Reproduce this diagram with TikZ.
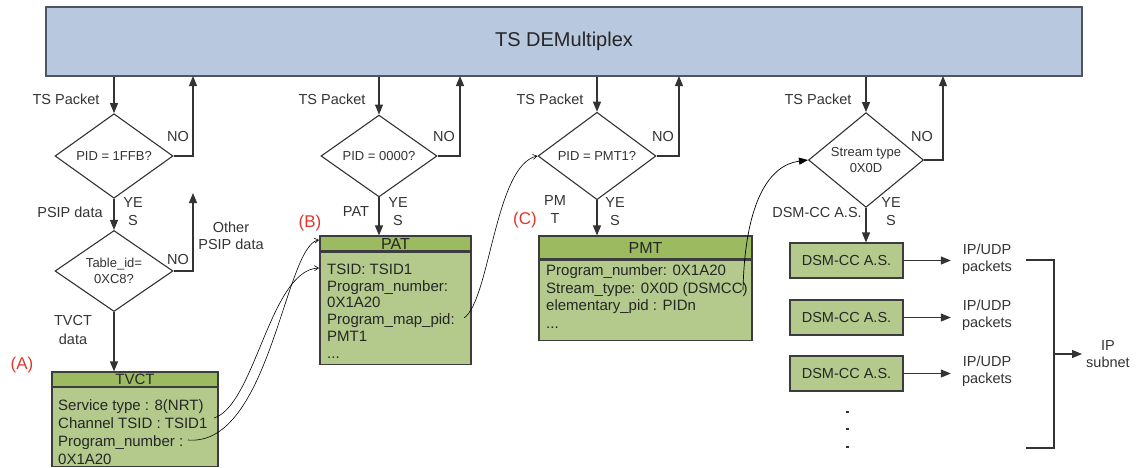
\documentclass[tikz,border=0pt]{standalone}
\usepackage{fontspec}
\setmainfont{Liberation Sans}
\usetikzlibrary{arrows.meta,shapes.geometric,calc}

\definecolor{barblue}{HTML}{B8C8DE}
\definecolor{barline}{HTML}{4D5563}
\definecolor{hdrgreen}{HTML}{9CBA60}
\definecolor{bodygreen}{HTML}{B4CA8C}
\definecolor{boxline}{HTML}{3C3C3C}
\definecolor{ink}{HTML}{333333}
\definecolor{tagred}{HTML}{E0362C}

\begin{document}
\begin{tikzpicture}[x=1pt,y=-1pt,
  lbl/.style={text=ink, font=\fontsize{14.5}{18}\selectfont, align=center, inner sep=0pt},
  tag/.style={text=tagred, font=\fontsize{17}{20}\selectfont, inner sep=0pt},
  decision/.style={diamond, draw=ink, line width=1.1pt, fill=white, inner sep=0pt,
    align=center, text=ink, font=\fontsize{13}{15.5}\selectfont},
  hdr/.style={rectangle, draw=boxline, line width=1.1pt, fill=hdrgreen, inner sep=0pt,
    text=black!85, font=\fontsize{16}{18}\selectfont},
  body/.style={rectangle, draw=boxline, line width=1.1pt, fill=bodygreen, inner sep=0pt},
  bodytext/.style={anchor=north west, inner sep=0pt, align=left, text=black!85},
  dsmbox/.style={rectangle, draw=boxline, line width=1.1pt, fill=bodygreen, inner sep=0pt,
    minimum width=113pt, minimum height=35pt, text=black!85, font=\fontsize{14.5}{17}\selectfont},
  flow/.style={draw=ink, line width=1.1pt, -{Triangle[length=10pt,width=8pt]}},
  plain/.style={draw=ink, line width=1.1pt},
  link/.style={draw=black, line width=0.6pt, -{Straight Barb[length=4pt,width=5pt]}},
  linkfill/.style={draw=black, line width=0.7pt, -{Triangle[length=9pt,width=7pt]}}]

\useasboundingbox (0,0) rectangle (1137,467);

% demultiplexer bar
\node[rectangle, draw=barline, line width=1.1pt, fill=barblue, inner sep=0pt,
  minimum width=1036pt, minimum height=69pt, text=black!85,
  font=\fontsize{20}{24}\selectfont] (bar) at (564,41.5) {TS DEMultiplex};

% decisions
\node[decision, minimum width=118pt, minimum height=70pt] (d1) at (114,156) {PID = 1FFB?};
\node[decision, minimum width=118pt, minimum height=68pt] (d2) at (114,271) {Table\_id=\\0XC8?};
\node[decision, minimum width=116pt, minimum height=70pt] (d3) at (379,156) {PID = 0000?};
\node[decision, minimum width=118pt, minimum height=70pt] (d4) at (597,156) {PID = PMT1?};
\node[decision, minimum width=115pt, minimum height=70pt] (d5) at (866,160) {Stream type\\0X0D};

% table boxes
\node[hdr, minimum width=166pt, minimum height=14.5pt, font=\fontsize{15}{18}\selectfont] (tvcth) at (135,379.25) {TVCT};
\node[body, minimum width=166pt, minimum height=79pt, anchor=north] (tvctb) at (tvcth.south) {};
\node[bodytext, font=\fontsize{15}{18}\selectfont] (tvctt) at (58,399.4)
  {Service type : 8(NRT)\\Channel TSID : TSID1\\Program\_number :\\0X1A20};

\node[hdr, minimum width=151pt, minimum height=15pt] (path) at (395.5,243.5) {PAT};
\node[body, minimum width=151pt, minimum height=112pt, anchor=north] (patb) at (path.south) {};
\node[bodytext, font=\fontsize{15}{16.75}\selectfont] (patt) at (327,263.7)
  {TSID: TSID1\\Program\_number:\\0X1A20\\Program\_map\_pid:\\PMT1\\...};

\node[hdr, minimum width=213pt, minimum height=23pt] (pmth) at (645.5,247.5) {PMT};
\node[body, minimum width=213pt, minimum height=80pt, anchor=north] (pmtb) at (pmth.south) {};
\node[bodytext, font=\fontsize{15}{17.5}\selectfont] (pmtt) at (546,264.5)
  {Program\_number: 0X1A20\\Stream\_type: 0X0D (DSMCC)\\elementary\_pid : PIDn\\...};

% DSM-CC application streams
\node[dsmbox] (dsm1) at (846.5,260.5) {DSM-CC A.S.};
\node[dsmbox] (dsm2) at (846.5,317.5) {DSM-CC A.S.};
\node[dsmbox] (dsm3) at (846.5,373.5) {DSM-CC A.S.};
\fill[ink] (845.5,411) rectangle ++(3,2);
\fill[ink] (845.5,428) rectangle ++(3,2);
\fill[ink] (845.5,446) rectangle ++(3,2);

% labels
\node[lbl] (tsp1) at (66,99) {TS Packet};
\node[lbl] (tsp2) at (332,99) {TS Packet};
\node[lbl] (tsp3) at (550,99) {TS Packet};
\node[lbl] (tsp4) at (818,99) {TS Packet};
\node[lbl] (no1) at (178,137) {NO};
\node[lbl] (no2) at (178,259) {NO};
\node[lbl] (no3) at (444,137) {NO};
\node[lbl] (no4) at (663,137) {NO};
\node[lbl] (no5) at (922,137) {NO};
\node[lbl] (yes1) at (133,212) {YE\\S};
\node[lbl] (yes2) at (398,212) {YE\\S};
\node[lbl] (yes3) at (615,211.5) {YE\\S};
\node[lbl] (yes4) at (891,211.5) {YE\\S};
\node[lbl] (psip) at (70,212) {PSIP data};
\node[lbl, font=\fontsize{14.5}{17}\selectfont] (other) at (231,235.5) {Other\\PSIP data};
\node[lbl, font=\fontsize{14.5}{19}\selectfont] (tvctdata) at (73,329.5) {TVCT\\data};
\node[lbl] (patlbl) at (356,212) {PAT};
\node[lbl] (pmtlbl) at (555,210) {PM\\T};
\node[lbl] (dsmlbl) at (817,212) {DSM-CC A.S.};
\node[lbl, font=\fontsize{14.5}{17}\selectfont, inner xsep=11pt] (ip1) at (987,259.5) {IP/UDP\\packets};
\node[lbl, font=\fontsize{14.5}{17}\selectfont, inner xsep=11pt] (ip2) at (987,315) {IP/UDP\\packets};
\node[lbl, font=\fontsize{14.5}{17}\selectfont, inner xsep=11pt] (ip3) at (987,371.5) {IP/UDP\\packets};
\node[lbl, font=\fontsize{14.5}{17}\selectfont, inner xsep=4pt] (ipnet) at (1108,354) {IP\\subnet};
\node[tag] (tagA) at (22,365) {(A)};
\node[tag] (tagB) at (310,223) {(B)};
\node[tag] (tagC) at (525,220) {(C)};

% return points on the bar
\coordinate (r1) at (193,76);
\coordinate (r2) at (193,193);
\coordinate (r3) at (460,76);
\coordinate (r4) at (679,76);
\coordinate (r5) at (943,76);

% packet flow
\draw[flow] (d1.north |- bar.south) -- (d1.north);
\draw[flow] (d1.east) -| (r1);
\draw[flow] (d1.south) -- (d2.north);
\draw[flow] (d2.east) -| (r2);
\draw[flow] (d2.south) -- (d2.south |- tvcth.north);

\draw[flow] (d3.north |- bar.south) -- (d3.north);
\draw[flow] (d3.east) -| (r3);
\draw[flow] (d3.south) -- (d3.south |- path.north);

\draw[flow] (d4.north |- bar.south) -- (d4.north);
\draw[flow] (d4.east) -| (r4);
\draw[flow] (d4.south) -- (d4.south |- pmth.north);

\draw[flow] (d5.north |- bar.south) -- (d5.north);
\draw[flow] (d5.east) -| (r5);
\draw[flow] (d5.south) -- (d5.south |- dsm1.north);

\draw[flow] (dsm1.east) -- (dsm1.east -| ip1.west);
\draw[flow] (dsm2.east) -- (dsm2.east -| ip2.west);
\draw[flow] (dsm3.east) -- (dsm3.east -| ip3.west);

% merge into the IP subnet
\coordinate (b1) at (1026,260);
\coordinate (b2) at (1054,260);
\coordinate (b3) at (1054,448);
\coordinate (b4) at (1026,448);
\coordinate (bm) at (1054,354);
\draw[plain] (b1) -- (b2) -- (b3) -- (b4);
\draw[flow] (bm) -- (bm -| ipnet.west);

% field references between tables
\coordinate (cA) at (214,418);
\coordinate (pA) at (319,268);
\coordinate (cB) at (188,440);
\coordinate (pB) at (319,240);
\coordinate (cC) at (464,318);
\coordinate (cD) at (743,290);
\draw[link] (cA) .. controls (255,405) and (270,270) .. (pA);
\draw[link] (cB) .. controls (270,447) and (285,245) .. (pB);
\draw[link] (cC) .. controls (490,300) and (495,165) .. (d4.west);
\draw[linkfill] (cD) .. controls (745,200) and (770,165) .. (d5.west);
\end{tikzpicture}
\end{document}
